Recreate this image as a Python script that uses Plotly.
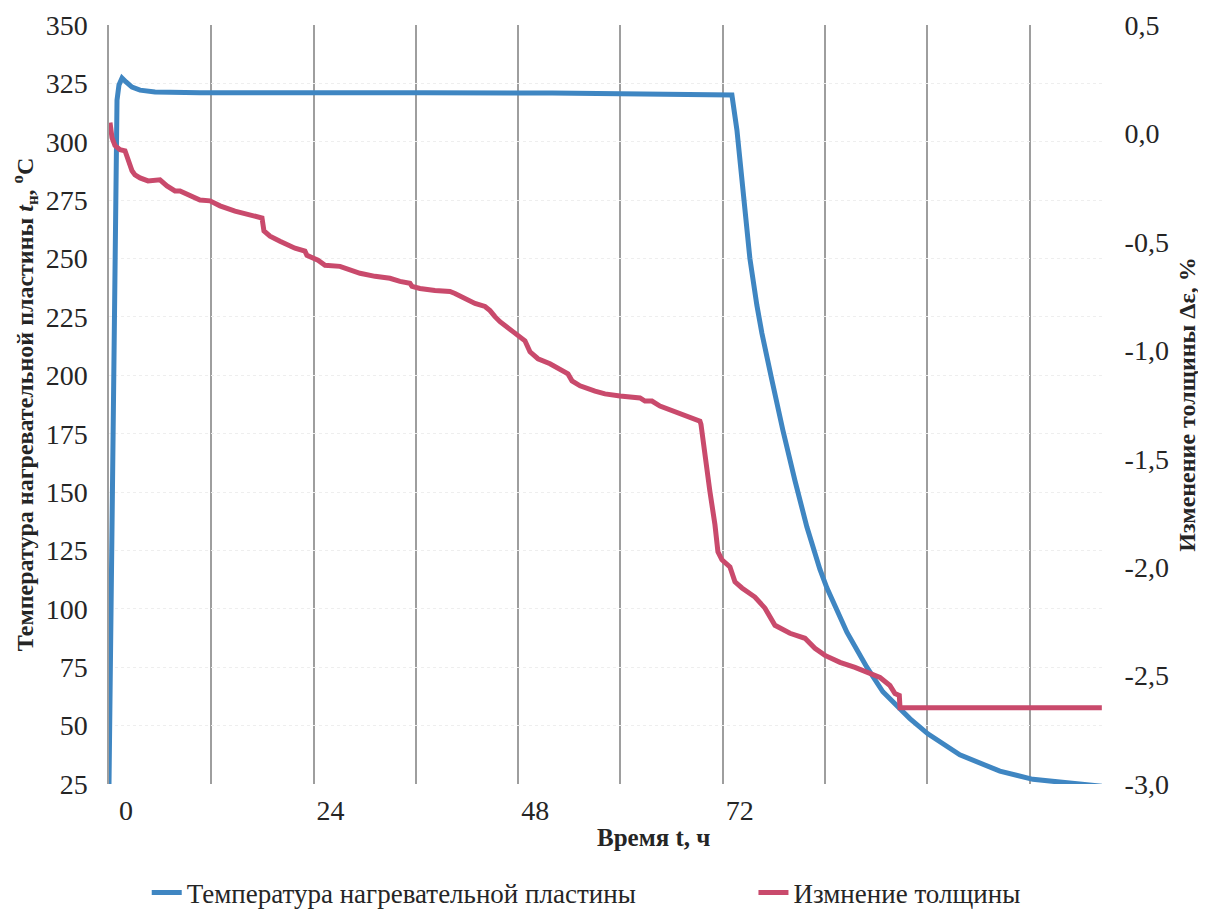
import plotly.graph_objects as go

# Time, h
temp_time = [-2.0, -1.88, -1.77, -1.65, -1.53, -1.41, -1.30, -1.18, -1.06, -0.83, -0.47, 0.0, 0.70, 1.64,
             3.40, 8.67, 20.0, 35.0, 50.0, 60.0, 70.0, 71.08, 71.67, 72.25, 72.60, 73.19, 74.01, 74.60,
             75.77, 76.36, 77.06, 78.47, 79.88, 81.40, 82.22, 84.57, 86.91, 88.79, 91.96, 94.07, 97.82,
             102.52, 106.39, 114.48]
# Heating plate temperature, °C
temp_values = [25, 60.6, 103.5, 146.3, 189.2, 232.1, 275.0, 305.0, 317.8, 324.3, 327.3, 325.6, 323.4, 322.1,
               321.3, 321.0, 320.8, 321.0, 320.9, 320.6, 320.3, 320.0, 305.0, 283.5, 270.0, 250.0, 230.0, 218.0,
               198.0, 188.0, 176.5, 155.0, 135.0, 117.0, 109.0, 90.0, 75.0, 64.5, 53.0, 46.5, 37.5,
               30.5, 27.0, 24.0]

thick_time = [-1.88, -1.65, -1.30, -0.71, -0.12, 0.23, 0.70, 1.05, 1.64, 2.58, 3.40, 3.98, 4.80, 5.74, 6.33,
              7.50, 8.67, 9.85, 11.02, 12.78, 14.54, 15.95, 16.18, 16.89, 18.06, 19.82, 20.99, 21.22, 22.52,
              23.34, 25.10, 25.69, 27.45, 29.21, 30.96, 32.14, 33.31, 33.55, 34.48, 36.24, 38.00, 38.59,
              39.76, 40.94, 42.11, 42.70, 43.28, 43.87, 45.39, 46.80, 47.39, 48.33, 49.74, 50.91, 51.85,
              52.32, 53.26, 55.02, 56.19, 57.95, 59.12, 60.30, 60.88, 61.70, 62.64, 64.40, 66.16, 67.33,
              67.45, 67.92, 68.50, 69.09, 69.44, 69.91, 70.85, 71.44, 72.26, 73.78, 74.96, 76.13, 77.89,
              79.65, 80.82, 82.00, 83.76, 85.52, 87.28, 88.45, 89.62, 90.21, 90.72, 90.80, 114.48]
# Thickness change, %
thick_values = [0.050, -0.019, -0.056, -0.075, -0.080, -0.121, -0.172, -0.191, -0.205, -0.219, -0.219, -0.214,
                -0.242, -0.265, -0.265, -0.288, -0.307, -0.311, -0.334, -0.358, -0.376, -0.390, -0.450, -0.474,
                -0.497, -0.529, -0.543, -0.562, -0.585, -0.608, -0.613, -0.622, -0.645, -0.659, -0.668, -0.682,
                -0.691, -0.705, -0.715, -0.724, -0.729, -0.738, -0.761, -0.784, -0.798, -0.817, -0.845, -0.868,
                -0.914, -0.956, -1.007, -1.039, -1.062, -1.086, -1.109, -1.141, -1.164, -1.188, -1.201, -1.211,
                -1.215, -1.220, -1.234, -1.234, -1.257, -1.285, -1.308, -1.327, -1.341, -1.493, -1.651, -1.804,
                -1.929, -1.966, -1.999, -2.068, -2.096, -2.138, -2.189, -2.268, -2.305, -2.328, -2.374, -2.407,
                -2.439, -2.462, -2.490, -2.509, -2.546, -2.583, -2.592, -2.648, -2.648]

x_tickvals = [0, 24, 48, 72]
x_ticktext = ["0", "24", "48", "72"]
y_left_ticks = list(range(25, 351, 25))
y_right_ticks = [0.5, 0.0, -0.5, -1.0, -1.5, -2.0, -2.5, -3.0]
y_right_text = ["0,5", "0,0", "-0,5", "-1,0", "-1,5", "-2,0", "-2,5", "-3,0"]

BLUE = "#3f86c2"
RED = "#c94a6c"
FONT = '"Liberation Serif", "Times New Roman", Times, "DejaVu Serif", serif'
INK = "#252525"

fig = go.Figure()
fig.add_trace(go.Scatter(x=temp_time, y=temp_values, mode="lines", name="Температура нагревательной пластины",
                         line=dict(color=BLUE, width=5), yaxis="y", legend="legend"))
fig.add_trace(go.Scatter(x=thick_time, y=thick_values, mode="lines", name="Измнение толщины",
                         line=dict(color=RED, width=5), yaxis="y2", legend="legend2"))

legend_common = dict(orientation="h", y=-0.1436, yanchor="middle", xanchor="left",
                     font=dict(family=FONT, size=27, color=INK), bgcolor="rgba(0,0,0,0)")

fig.update_layout(
    width=1198, height=901,
    margin=dict(l=101, r=104, t=17, b=125, autoexpand=False),
    paper_bgcolor="white", plot_bgcolor="white",
    font=dict(family=FONT, size=27, color=INK),
    showlegend=True,
    legend=dict(x=0.038, **legend_common),
    legend2=dict(x=0.649, **legend_common),
    xaxis=dict(range=[-2, 114.5], tickmode="array", tickvals=x_tickvals, ticktext=x_ticktext,
               showgrid=False, zeroline=False, showline=False, automargin=False,
               ticks="outside", ticklen=1, tickcolor="rgba(0,0,0,0)",
               tickfont=dict(family=FONT, size=28, color=INK),
               minor=dict(tickmode="linear", tick0=-2, dtick=12, showgrid=True,
                          gridcolor="#9e9e9e", gridwidth=1.5, ticks="")),
    yaxis=dict(range=[25, 350], tickmode="array", tickvals=y_left_ticks,
               showgrid=True, gridcolor="#eeeeee", griddash="dot", gridwidth=1,
               zeroline=False, showline=True, linecolor="#9e9e9e", linewidth=1.5, automargin=False,
               ticks="outside", ticklen=14, tickcolor="rgba(0,0,0,0)",
               tickfont=dict(family=FONT, size=28, color=INK),
               title=dict(text="<b>Температура нагревательной пластины <i>t</i><sub>н</sub>, <sup>o</sup>C</b>",
                          font=dict(family=FONT, size=24, color=INK), standoff=6)),
    yaxis2=dict(range=[-3.0, 0.5], overlaying="y", side="right", tickmode="array",
                tickvals=y_right_ticks, ticktext=y_right_text, showgrid=False, zeroline=False,
                showline=False, automargin=False, ticks="outside", ticklen=16, tickcolor="rgba(0,0,0,0)",
                tickfont=dict(family=FONT, size=28, color=INK),
                title=dict(text="<b>Изменение толщины Δε, %</b>",
                           font=dict(family=FONT, size=24, color=INK), standoff=10)),
    annotations=[dict(text="<b>Время t, ч</b>", xref="paper", yref="paper", x=0.548, y=-0.07,
                      xanchor="center", yanchor="middle", showarrow=False,
                      font=dict(family=FONT, size=25, color=INK))],
)

fig.write_html("out.html")
